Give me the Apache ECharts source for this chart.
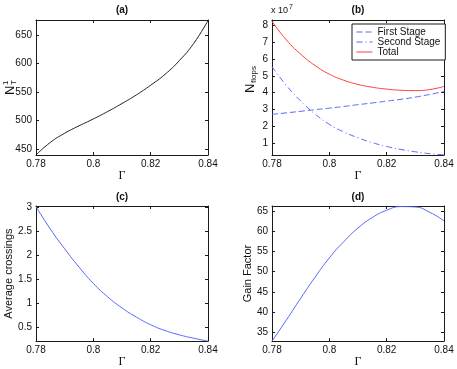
<!DOCTYPE html>
<html>
<head>
<meta charset="utf-8">
<script src="https://cdn.jsdelivr.net/npm/echarts@6/dist/echarts.min.js"></script>
<style>
  html, body { margin: 0; background: #fff; }
  #main { width: 457px; height: 369px; }
</style>
</head>
<body>
<div id="main"></div>
<script>
// values
const gamma = [0.78, 0.785, 0.79, 0.795, 0.8, 0.805, 0.81, 0.815, 0.82, 0.825, 0.83, 0.835, 0.84];
const nT = [440, 462, 478, 491, 503, 516, 530, 545, 562, 581, 605, 635, 675];
// N_flops in units of 1e7
const firstStage = [2.7, 2.79, 2.88, 2.98, 3.07, 3.17, 3.28, 3.38, 3.49, 3.6, 3.73, 3.89, 4.07];
const secondStage = [5.55, 4.43, 3.5, 2.72, 2.1, 1.65, 1.3, 1.01, 0.78, 0.6, 0.46, 0.35, 0.28];
const totalFlops = [8.26, 7.15, 6.3, 5.62, 5.1, 4.74, 4.49, 4.32, 4.21, 4.14, 4.12, 4.18, 4.37];
const avgCrossings = [3.02, 2.55, 2.14, 1.76, 1.42, 1.14, 0.91, 0.72, 0.56, 0.44, 0.35, 0.28, 0.22];
const gainFactor = [32.8, 38.0, 43.4, 48.6, 53.4, 57.4, 60.8, 63.4, 65.2, 66.1, 66.0, 64.7, 62.6];

const xTicks = [0.78, 0.8, 0.82, 0.84];
const nTTicks = [450, 500, 550, 600, 650];
const flopsTicks = [1, 2, 3, 4, 5, 6, 7, 8];
const crossTicks = [0.5, 1, 1.5, 2, 2.5, 3];
const gainTicks = [35, 40, 45, 50, 55, 60, 65];

const font = 'Liberation Sans, Arial, Helvetica, sans-serif';
const serif = 'Liberation Serif, DejaVu Serif, serif';
const ink = '#1a1a1a';
const blue = '#5567ff';
const red = '#ff3d3d';

const pairs = (ys) => gamma.map((g, i) => [g, ys[i]]);

const grids = [
  { left: 36, top: 20, width: 172, height: 135 },
  { left: 272, top: 20, width: 172, height: 135 },
  { left: 36, top: 206, width: 172, height: 136 },
  { left: 272, top: 206, width: 172, height: 136 },
];

const yRanges = [
  { min: 440, max: 676, ticks: nTTicks, name: '' },
  { min: 0.27, max: 8.34, ticks: flopsTicks, name: '' },
  { min: 0.22, max: 3.03, ticks: crossTicks, name: 'Average crossings' },
  { min: 32.8, max: 66.25, ticks: gainTicks, name: 'Gain Factor' },
];

const lineStyle = { color: ink, width: 1 };

function xAxes(i) {
  const base = {
    gridIndex: i, type: 'value', min: 0.78, max: 0.84,
    axisLine: { show: true, onZero: false, lineStyle },
    axisTick: { show: true, inside: true, length: 3, customValues: xTicks, lineStyle },
    splitLine: { show: false },
  };
  return [
    Object.assign({}, base, {
      position: 'bottom',
      axisLabel: { customValues: xTicks, color: '#111', fontSize: 10, fontFamily: font, margin: 4 },
      name: 'Γ', nameLocation: 'middle', nameGap: 12,
      nameTextStyle: { fontFamily: serif, fontSize: 12, color: '#111' },
    }),
    Object.assign({}, base, { position: 'top', axisLabel: { show: false } }),
  ];
}

function yAxes(i) {
  const r = yRanges[i];
  const base = {
    gridIndex: i, type: 'value', min: r.min, max: r.max,
    axisLine: { show: true, onZero: false, lineStyle },
    axisTick: { show: true, inside: true, length: 3, customValues: r.ticks, lineStyle },
    splitLine: { show: false },
  };
  return [
    Object.assign({}, base, {
      position: 'left',
      axisLabel: { customValues: r.ticks, color: '#111', fontSize: 10, fontFamily: font, margin: 4 },
      name: r.name, nameLocation: 'middle', nameGap: 19,
      nameTextStyle: { fontFamily: font, fontSize: 11, color: '#111' },
    }),
    Object.assign({}, base, { position: 'right', axisLabel: { show: false } }),
  ];
}

const xAxis = [];
const yAxis = [];
for (let i = 0; i < 4; i++) {
  xAxis.push(...xAxes(i));
  yAxis.push(...yAxes(i));
}

function curve(name, panel, ys, color, type) {
  return {
    name, type: 'line',
    xAxisIndex: panel * 2, yAxisIndex: panel * 2,
    data: pairs(ys),
    symbol: 'none', smooth: 0.5,
    lineStyle: { color, width: 1, type: type || 'solid' },
    itemStyle: { color },
    silent: true,
  };
}

const titles = [
  { t: '(a)', x: 122, y: 10 },
  { t: '(b)', x: 358, y: 10 },
  { t: '(c)', x: 122, y: 197 },
  { t: '(d)', x: 358, y: 197 },
];

const graphic = titles.map((d) => ({
  type: 'text', x: d.x, y: d.y,
  style: { text: d.t, font: 'bold 10px ' + font, fill: '#111', textAlign: 'center', textVerticalAlign: 'middle' },
}));

// x 10^7 multiplier
graphic.push({
  type: 'text', x: 271, y: 9,
  style: {
    text: '{a|x 10}{b|7}',
    rich: {
      a: { fontSize: 9, fontFamily: font, fill: '#111', padding: [4, 0, 0, 0] },
      b: { fontSize: 7, fontFamily: font, fill: '#111', padding: [0, 0, 4, 1] },
    },
    textVerticalAlign: 'middle',
  },
});

// N_T^1 label (rotated)
graphic.push({
  type: 'group', x: 10, y: 86, rotation: Math.PI / 2,
  children: [
    { type: 'text', x: -9, y: 0, style: { text: 'N', font: '13px ' + font, fill: '#111', textVerticalAlign: 'middle' } },
    { type: 'text', x: 1, y: -4, style: { text: '1', font: '8px ' + font, fill: '#111', textVerticalAlign: 'middle' } },
    { type: 'text', x: 1, y: 4, style: { text: 'T', font: '8px ' + font, fill: '#111', textVerticalAlign: 'middle' } },
  ],
});

// N_flops label (rotated)
graphic.push({
  type: 'group', x: 250, y: 81, rotation: Math.PI / 2,
  children: [
    { type: 'text', x: -12, y: 0, style: { text: 'N', font: '13px ' + font, fill: '#111', textVerticalAlign: 'middle' } },
    { type: 'text', x: -2, y: 4, style: { text: 'flops', font: '8px ' + font, fill: '#111', textVerticalAlign: 'middle' } },
  ],
});

const option = {
  animation: false,
  backgroundColor: '#fff',
  grid: grids,
  xAxis,
  yAxis,
  legend: {
    data: ['First Stage', 'Second Stage', 'Total'],
    orient: 'vertical', left: 352, top: 24,
    backgroundColor: '#fff', borderColor: ink, borderWidth: 1, borderRadius: 0,
    padding: [3, 5, 3, 4], itemGap: 0, itemWidth: 16, itemHeight: 10,
    itemStyle: { opacity: 0 },
    lineStyle: { width: 1 },
    textStyle: { fontSize: 10, fontFamily: font, color: '#111', lineHeight: 10 },
    selectedMode: false,
  },
  graphic,
  series: [
    curve('nT', 0, nT, '#222'),
    curve('First Stage', 1, firstStage, blue, [6, 3]),
    curve('Second Stage', 1, secondStage, blue, [6, 3, 1, 3]),
    curve('Total', 1, totalFlops, red),
    curve('crossings', 2, avgCrossings, blue),
    curve('gain', 3, gainFactor, blue),
  ],
};

const chart = echarts.init(document.getElementById('main'), null, { renderer: 'canvas' });
chart.setOption(option);
</script>
</body>
</html>
